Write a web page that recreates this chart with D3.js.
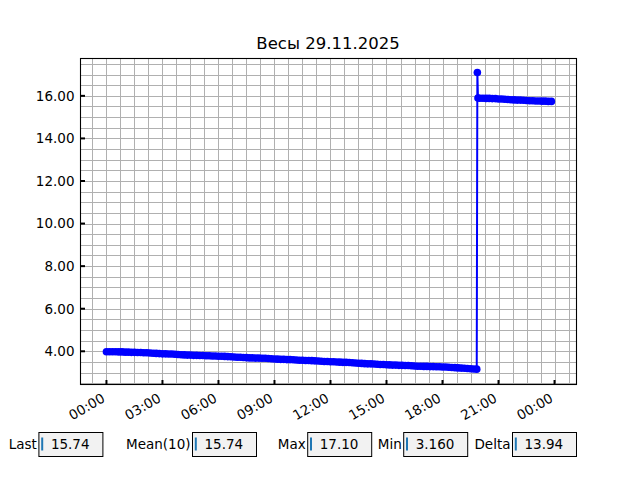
<!DOCTYPE html>
<html>
<head>
<meta charset="utf-8">
<script src="https://cdn.jsdelivr.net/npm/d3@7"></script>
<style>
  body { margin: 0; background: #fff; }
  svg { display: block; font-family: "DejaVu Sans", sans-serif; }
</style>
</head>
<body>
<div id="container"></div>
<script>
/* DATA */
const title = "Весы 29.11.2025";
const day = "2025-11-29";

const times = [
  "00:00", "00:10", "00:20", "00:30", "00:40", "00:50",
  "01:00", "01:10", "01:20", "01:30", "01:40", "01:50",
  "02:00", "02:10", "02:20", "02:30", "02:40", "02:50",
  "03:00", "03:10", "03:20", "03:30", "03:40", "03:50",
  "04:00", "04:10", "04:20", "04:30", "04:40", "04:50",
  "05:00", "05:10", "05:20", "05:30", "05:40", "05:50",
  "06:00", "06:10", "06:20", "06:30", "06:40", "06:50",
  "07:00", "07:10", "07:20", "07:30", "07:40", "07:50",
  "08:00", "08:10", "08:20", "08:30", "08:40", "08:50",
  "09:00", "09:10", "09:20", "09:30", "09:40", "09:50",
  "10:00", "10:10", "10:20", "10:30", "10:40", "10:50",
  "11:00", "11:10", "11:20", "11:30", "11:40", "11:50",
  "12:00", "12:10", "12:20", "12:30", "12:40", "12:50",
  "13:00", "13:10", "13:20", "13:30", "13:40", "13:50",
  "14:00", "14:10", "14:20", "14:30", "14:40", "14:50",
  "15:00", "15:10", "15:20", "15:30", "15:40", "15:50",
  "16:00", "16:10", "16:20", "16:30", "16:40", "16:50",
  "17:00", "17:10", "17:20", "17:30", "17:40", "17:50",
  "18:00", "18:10", "18:20", "18:30", "18:40", "18:50",
  "19:00", "19:10", "19:20", "19:30", "19:40", "19:50",
  "19:52", "19:54",
  "20:00", "20:10", "20:20", "20:30", "20:40", "20:50",
  "21:00", "21:10", "21:20", "21:30", "21:40", "21:50",
  "22:00", "22:10", "22:20", "22:30", "22:40", "22:50",
  "23:00", "23:10", "23:20", "23:30", "23:40", "23:50"
];

const weights = [
  3.98, 3.98, 3.98, 3.98, 3.97, 3.97,
  3.96, 3.96, 3.95, 3.95, 3.94, 3.94,
  3.93, 3.93, 3.92, 3.91, 3.90, 3.89,
  3.88, 3.88, 3.87, 3.87, 3.86, 3.85,
  3.84, 3.83, 3.82, 3.82, 3.81, 3.81,
  3.80, 3.80, 3.79, 3.79, 3.78, 3.78,
  3.77, 3.77, 3.76, 3.75, 3.74, 3.73,
  3.72, 3.72, 3.71, 3.70, 3.69, 3.69,
  3.68, 3.68, 3.67, 3.67, 3.66, 3.65,
  3.64, 3.63, 3.62, 3.62, 3.61, 3.61,
  3.60, 3.59, 3.58, 3.58, 3.57, 3.57,
  3.56, 3.55, 3.54, 3.53, 3.52, 3.52,
  3.51, 3.51, 3.50, 3.49, 3.48, 3.48,
  3.47, 3.46, 3.45, 3.44, 3.43, 3.42,
  3.41, 3.41, 3.40, 3.39, 3.38, 3.38,
  3.37, 3.36, 3.35, 3.35, 3.34, 3.34,
  3.33, 3.33, 3.32, 3.31, 3.30, 3.30,
  3.29, 3.29, 3.28, 3.28, 3.27, 3.27,
  3.26, 3.26, 3.25, 3.24, 3.23, 3.22,
  3.21, 3.20, 3.19, 3.18, 3.17, 3.16,
  17.10, 15.90,
  15.89, 15.89, 15.88, 15.88, 15.87, 15.87,
  15.85, 15.85, 15.84, 15.83, 15.82, 15.81,
  15.80, 15.80, 15.79, 15.78, 15.77, 15.77,
  15.76, 15.76, 15.75, 15.75, 15.74, 15.74
];

const xTicks = [
  "2025-11-29 00:00", "2025-11-29 03:00", "2025-11-29 06:00", "2025-11-29 09:00",
  "2025-11-29 12:00", "2025-11-29 15:00", "2025-11-29 18:00", "2025-11-29 21:00",
  "2025-11-30 00:00"
];
const xDomain = ["2025-11-28 22:35", "2025-11-30 01:09"];
const yTicks = [4, 6, 8, 10, 12, 14, 16];

const statLabels = ["Last", "Mean(10)", "Max", "Min", "Delta"];
const statValues = ["15.74", "15.74", "17.10", "3.160", "13.94"];

/* LAYOUT */
const width = 640, height = 480;
const margin = { top: 57.6, right: 64, bottom: 96, left: 80 };
const boxLefts = [0.06, 0.30, 0.48, 0.63, 0.80].map(f => f * width);
const boxW = 64, boxH = 24, boxTop = height - 0.05 * height - boxH;

const parse = d3.timeParse("%Y-%m-%d %H:%M");
const data = times.map((t, i) => ({ t: parse(day + " " + t), v: weights[i] }));

const svg = d3.select("#container")
  .append("svg")
  .attr("width", width)
  .attr("height", height);

/* SCALES */
const xScale = d3.scaleTime()
  .domain(xDomain.map(parse))
  .range([margin.left, width - margin.right]);

const [lo, hi] = d3.extent(weights);
const pad = (hi - lo) * 0.05;
const yScale = d3.scaleLinear()
  .domain([lo - pad, hi + pad])
  .range([height - margin.bottom, margin.top]);

const plotTop = Math.round(margin.top);
const plotBottom = height - margin.bottom;
const plotRight = width - margin.right;

// minor ticks: 45 min on x, 0.5 on y
const xMajor = xTicks.map(parse);
const step = 45 * 60 * 1000;
const xMinor = d3.range(-4, 40)
  .map(k => new Date(+xMajor[0] + k * step))
  .filter(d => d > xScale.domain()[0] && d < xScale.domain()[1]);
const yMinor = d3.range(Math.ceil(yScale.domain()[0] * 2), Math.floor(yScale.domain()[1] * 2) + 1)
  .map(k => k / 2);

/* GRID */
const grid = svg.append("g").attr("stroke", "#b0b0b0").attr("stroke-width", 1);
grid.selectAll("line.vx")
  .data(xMinor)
  .join("line")
  .attr("x1", d => Math.round(xScale(d)) + 0.5)
  .attr("x2", d => Math.round(xScale(d)) + 0.5)
  .attr("y1", plotTop)
  .attr("y2", plotBottom);
grid.selectAll("line.hy")
  .data(yMinor)
  .join("line")
  .attr("y1", d => Math.round(yScale(d)) + 0.5)
  .attr("y2", d => Math.round(yScale(d)) + 0.5)
  .attr("x1", margin.left)
  .attr("x2", plotRight);

/* LINE + MARKERS */
const line = d3.line()
  .x(d => xScale(d.t))
  .y(d => yScale(d.v));

svg.append("path")
  .datum(data)
  .attr("fill", "none")
  .attr("stroke", "#0000ff")
  .attr("stroke-width", 2)
  .attr("d", line);

svg.append("g")
  .selectAll("circle")
  .data(data)
  .join("circle")
  .attr("cx", d => xScale(d.t))
  .attr("cy", d => yScale(d.v))
  .attr("r", 3.8)
  .attr("fill", "#0000ff");

/* AXES */
svg.append("rect")
  .attr("x", margin.left + 0.5)
  .attr("y", plotTop + 0.5)
  .attr("width", plotRight - margin.left)
  .attr("height", plotBottom - plotTop)
  .attr("fill", "none")
  .attr("stroke", "black")
  .attr("stroke-width", 1.1);

// major ticks, pointing in
svg.append("g")
  .selectAll("line")
  .data(xMajor)
  .join("line")
  .attr("x1", d => xScale(d))
  .attr("x2", d => xScale(d))
  .attr("y1", plotBottom)
  .attr("y2", plotBottom - 4)
  .attr("stroke", "black")
  .attr("stroke-width", 2);

svg.append("g")
  .selectAll("line")
  .data(yTicks)
  .join("line")
  .attr("x1", margin.left)
  .attr("x2", margin.left + 5)
  .attr("y1", d => yScale(d))
  .attr("y2", d => yScale(d))
  .attr("stroke", "black")
  .attr("stroke-width", 2);

const fmtTime = d3.timeFormat("%H:%M");
svg.append("g")
  .selectAll("text")
  .data(xMajor)
  .join("text")
  .attr("transform", d => `translate(${xScale(d) - 0.5},${plotBottom + 17}) rotate(-30)`)
  .attr("text-anchor", "end")
  .style("font-size", "13.5px")
  .text(d => fmtTime(d));

svg.append("g")
  .selectAll("text")
  .data(yTicks)
  .join("text")
  .attr("x", margin.left - 5.5)
  .attr("y", d => yScale(d))
  .attr("dy", "0.36em")
  .attr("text-anchor", "end")
  .style("font-size", "13.5px")
  .text(d => d3.format(".2f")(d));

/* TITLE */
svg.append("text")
  .attr("x", (margin.left + plotRight) / 2)
  .attr("y", 49)
  .attr("text-anchor", "middle")
  .style("font-size", "16.5px")
  .text(title);

/* STAT BOXES */
const stats = svg.append("g")
  .selectAll("g")
  .data(statLabels.map((l, i) => ({ label: l, value: statValues[i], x: boxLefts[i] })))
  .join("g")
  .attr("transform", d => `translate(${d.x},${boxTop})`);

stats.append("rect")
  .attr("x", 0.5)
  .attr("y", 0.5)
  .attr("width", boxW)
  .attr("height", boxH)
  .attr("fill", "#f2f2f2")
  .attr("stroke", "black")
  .attr("stroke-width", 1);

stats.append("line")
  .attr("x1", 3.8).attr("x2", 3.8)
  .attr("y1", 5.5).attr("y2", 18.5)
  .attr("stroke", "#1f77b4")
  .attr("stroke-width", 2);

stats.append("text")
  .attr("x", 12.5)
  .attr("y", boxH / 2)
  .attr("dy", "0.36em")
  .style("font-size", "13.5px")
  .text(d => d.value);

stats.append("text")
  .attr("x", -1.5)
  .attr("y", boxH / 2)
  .attr("dy", "0.36em")
  .attr("text-anchor", "end")
  .style("font-size", "13.5px")
  .text(d => d.label);
</script>
</body>
</html>
